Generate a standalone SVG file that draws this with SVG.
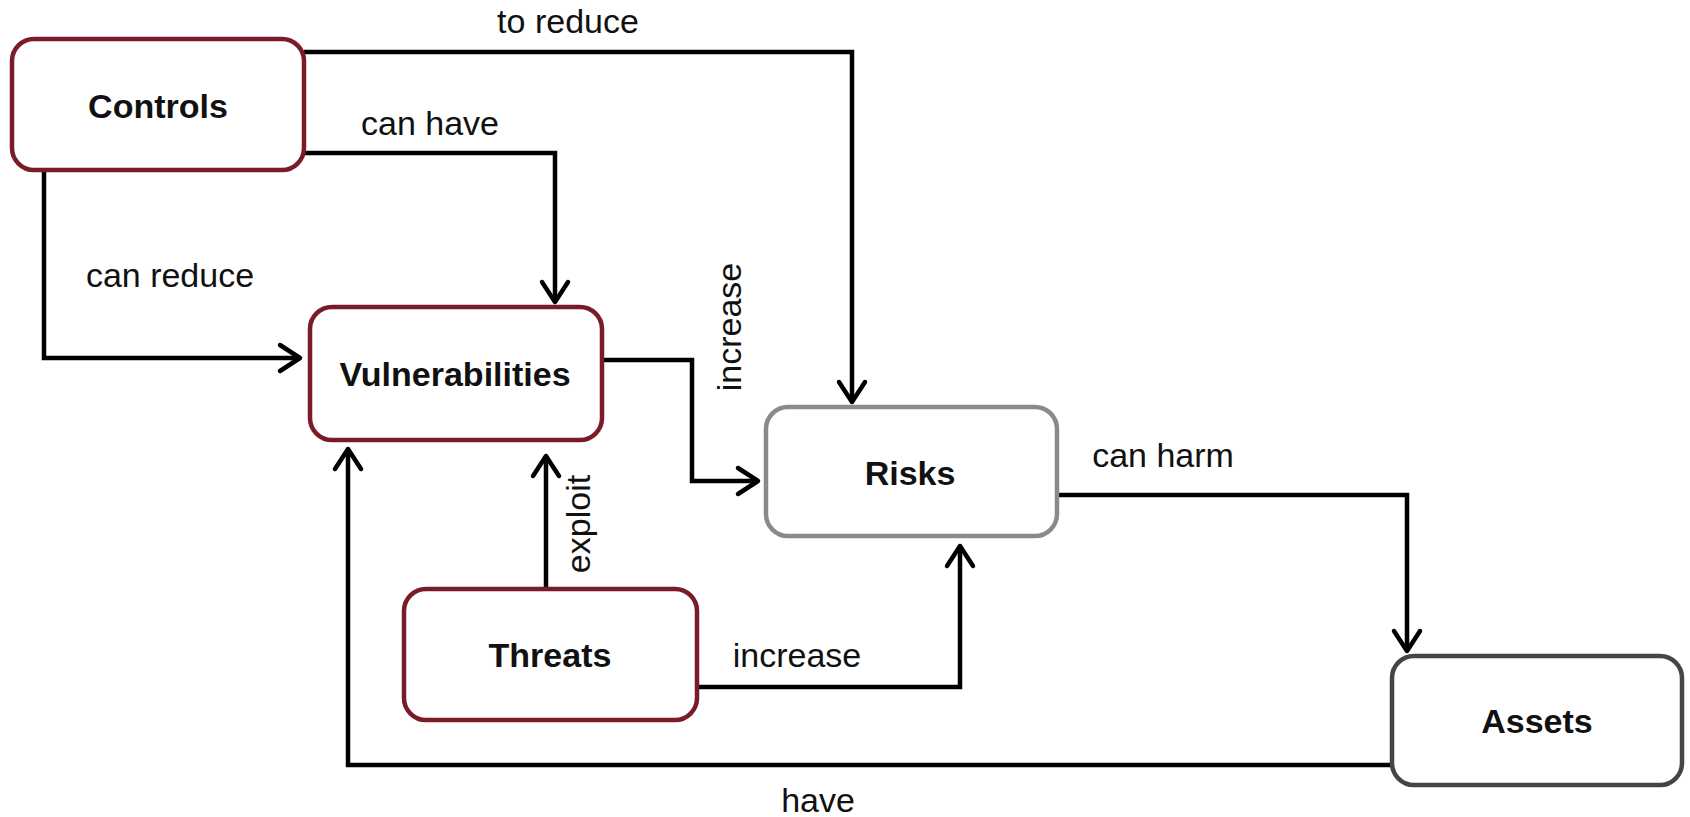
<svg xmlns="http://www.w3.org/2000/svg" width="1690" height="817" viewBox="0 0 1690 817">
<style>
.box{fill:#fff;stroke-width:4.5}
.red{stroke:#7a1c28}
.gray{stroke:#8a8a8a}
.dark{stroke:#454545}
.title{font-family:"Liberation Sans",Arial,sans-serif;font-weight:bold;font-size:34px;fill:#111;text-anchor:middle}
.lbl{font-family:"Liberation Sans",Arial,sans-serif;font-size:34px;fill:#111;text-anchor:middle}
.conn{fill:none;stroke:#000;stroke-width:4.5;marker-end:url(#arr)}
</style>
<defs>
<marker id="arr" markerUnits="userSpaceOnUse" viewBox="-26 -18 30 36" markerWidth="30" markerHeight="36" refX="0" refY="0" orient="auto">
<path d="M-20,-13 L0,0 L-20,13" fill="none" stroke="#000" stroke-width="4.5" stroke-linejoin="round" stroke-linecap="round"/>
</marker>
</defs>
<rect width="1690" height="817" fill="#fff"/>
<g id="connectors">
<path class="conn" d="M304,52 H852 V402"/>
<path class="conn" d="M304,153 H555 V302"/>
<path class="conn" d="M44,170 V358 H300"/>
<path class="conn" d="M602,360 H692 V481 H758"/>
<path class="conn" d="M1057,495 H1407 V651"/>
<path class="conn" d="M1392,765 H348 V449"/>
<path class="conn" d="M546,589 V456"/>
<path class="conn" d="M697,687 H960 V546"/>
<text class="lbl" x="568" y="33">to reduce</text>
<text class="lbl" x="430" y="135">can have</text>
<text class="lbl" x="170" y="287">can reduce</text>
<text class="lbl" transform="translate(741,327) rotate(-90)">increase</text>
<text class="lbl" x="1163" y="467">can harm</text>
<text class="lbl" transform="translate(590,524) rotate(-90)">exploit</text>
<text class="lbl" x="797" y="667">increase</text>
<text class="lbl" x="818" y="812">have</text>
</g>
<g id="controls">
<rect class="box red" x="12" y="39" width="292" height="131" rx="22"/>
<text class="title" x="158" y="118">Controls</text>
</g>
<g id="vulnerabilities">
<rect class="box red" x="310" y="307" width="292" height="133" rx="22"/>
<text class="title" x="455" y="386">Vulnerabilities</text>
</g>
<g id="risks">
<rect class="box gray" x="766" y="407" width="291" height="129" rx="22"/>
<text class="title" x="910" y="485">Risks</text>
</g>
<g id="threats">
<rect class="box red" x="404" y="589" width="293" height="131" rx="22"/>
<text class="title" x="550" y="667">Threats</text>
</g>
<g id="assets">
<rect class="box dark" x="1392" y="656" width="290" height="129" rx="22"/>
<text class="title" x="1537" y="733">Assets</text>
</g>
</svg>
